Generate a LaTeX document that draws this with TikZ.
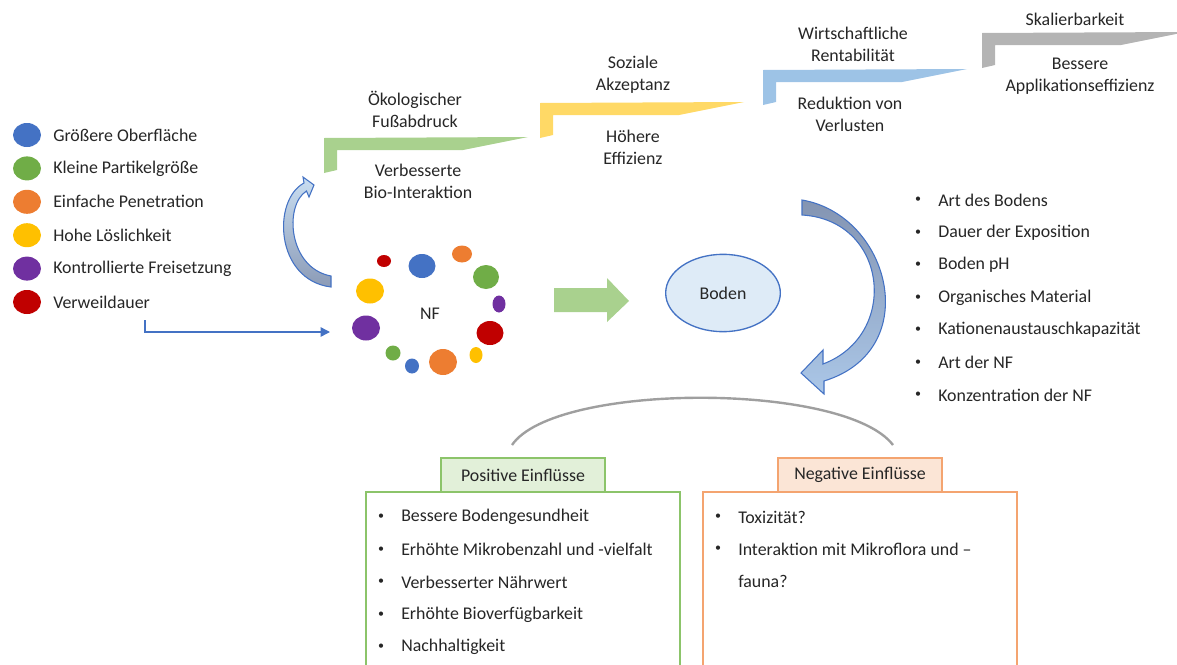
\documentclass[tikz,border=0pt]{standalone}
\usepackage{fontspec}
\setmainfont{Carlito}
\usetikzlibrary{arrows.meta,shapes.geometric}
\definecolor{NFBlue}{HTML}{4472C4}
\definecolor{NFGreen}{HTML}{70AD47}
\definecolor{NFOrange}{HTML}{ED7D31}
\definecolor{NFYellow}{HTML}{FFC000}
\definecolor{NFPurple}{HTML}{7030A0}
\definecolor{NFRed}{HTML}{C00000}
\definecolor{BanGreen}{HTML}{A9D18E}
\definecolor{BanYellow}{HTML}{FFD966}
\definecolor{BanBlue}{HTML}{9DC3E6}
\definecolor{BanGray}{HTML}{B4B4B4}
\definecolor{SoilFill}{HTML}{DEEBF7}
\definecolor{PosFill}{HTML}{E2F0D9}
\definecolor{PosLine}{HTML}{8CC46A}
\definecolor{NegFill}{HTML}{FBE5D6}
\definecolor{NegLine}{HTML}{F4A470}
\definecolor{TextDark}{HTML}{262626}

\begin{document}
\begin{tikzpicture}[x=0.75pt,y=-0.75pt,
  every node/.style={font=\fontsize{13.4}{16.5}\selectfont,text=TextDark},
  lab/.style={align=center,inner sep=0pt},
  item/.style={anchor=west,inner sep=0pt},
  dotitem/.style={inner sep=0pt,font=\fontsize{9}{9}\selectfont},
  conn/.style={-{Triangle[length=7pt,width=7pt]},NFBlue,line width=1.1pt},
  headbox/.style={draw,line width=1.4pt,minimum width=123pt,minimum height=25.5pt,inner sep=0pt},
  listbox/.style={line width=1.4pt}]
\clip (0,0) rectangle (1177,664);
% legend
\foreach \c/\t [count=\i] in {NFBlue/Größere Oberfläche,NFGreen/Kleine Partikelgröße,
    NFOrange/Einfache Penetration,NFYellow/Hohe Löslichkeit,
    NFPurple/Kontrollierte Freisetzung,NFRed/Verweildauer}{
  \fill[\c] (27,{135+33.4*(\i-1)}) ellipse [x radius=14,y radius=12];
  \node[item] (leg\i) at (53,{135+33.4*(\i-1)}) {\t};
}
% nanofertiliser cluster
\foreach \x/\y/\rx/\ry/\c in {384/261/7/6/NFRed,422/266/13.5/12/NFBlue,462/254/10/8.5/NFOrange,
    486/277/13/12/NFGreen,499/304/6.5/8.5/NFPurple,490/333/13.5/12/NFRed,
    476/355/6.5/8/NFYellow,443/362/14/13/NFOrange,412/366/7/7.5/NFBlue,
    393/353/7.5/7.5/NFGreen,366/328/14/12.5/NFPurple,370/291/14/12.5/NFYellow}{
  \fill[\c] (\x,\y) ellipse [x radius=\rx,y radius=\ry];
}
\node (nf) at (430,314) {NF};
\coordinate (legOut) at (145,320);
\coordinate (nfIn) at (330,332);
\draw[conn] (legOut) |- (nfIn);
% curved arrow up to the banners
\draw[NFBlue,line width=0.8pt,top color=BanBlue!55,bottom color=NFBlue!45!gray!75]
  (331,287) .. controls (275,280) and (272,200) .. (304,183) -- (303,177) -- (314,185)
  -- (309,197) -- (306.5,191) .. controls (284,205) and (288,268) .. (331,276) -- cycle;
% stepped banners
\foreach \bx/\by/\bc in {324/138/BanGreen,540/103/BanYellow,763/70/BanBlue,982/33/BanGray}{
  \fill[\bc] (\bx,\by) -- ++(204,-1) -- ++(-65,13) -- ++(-126,0) -- ++(0,20) -- ++(-13,3) -- cycle;
}
\node[lab] (ecoUp) at (415,109) {Ökologischer\\Fußabdruck};
\node[lab] (ecoDown) at (418,181) {Verbesserte\\Bio-Interaktion};
\node[lab] (socUp) at (633,75) {Soziale\\Akzeptanz};
\node[lab] (socDown) at (633,147) {Höhere\\Effizienz};
\node[lab] (ecnUp) at (853,44) {Wirtschaftliche\\Rentabilität};
\node[lab] (ecnDown) at (850,114) {Reduktion von\\Verlusten};
\node[lab] (scaUp) at (1075,19) {Skalierbarkeit};
\node[lab] (scaDown) at (1080,76) {Bessere\\Applikationseffizienz};
% flow into the soil
\fill[BanGreen] (554,288) -- (607,288) -- (607,278) -- (629,301) -- (607,322) -- (607,312) -- (554,312) -- cycle;
\node[ellipse,draw=NFBlue,line width=1pt,fill=SoilFill,minimum width=86pt,minimum height=58pt]
  (soil) at (723,293) {Boden};
% curved arrow down to the effects
\draw[NFBlue,line width=0.8pt,top color=NFBlue!45!gray!80,bottom color=BanBlue!75!NFBlue!70]
  (802,200) .. controls (890,215) and (925,350) .. (824,381) -- (824,394) -- (801,373)
  -- (823,350) -- (823,364) .. controls (900,335) and (888,220) .. (802,215) -- cycle;
% soil factors
\foreach \t [count=\i] in {Art des Bodens,Dauer der Exposition,Boden pH,Organisches Material,
    Kationenaustauschkapazität,Art der NF,Konzentration der NF}{
  \node[dotitem] at (918,{200+32.5*(\i-1)}) {•};
  \node[item] (fac\i) at (938,{200+32.5*(\i-1)}) {\t};
}
% arc over the two boxes
\coordinate (arcL) at (512,445);
\coordinate (arcR) at (893,445);
\draw[gray!75,line width=1.8pt] (arcL) .. controls (555,382) and (845,382) .. (arcR);
% positive effects
\draw[listbox,PosLine] (366,492) rectangle (680,672);
\node[headbox,draw=PosLine,fill=PosFill] (posHead) at (523,475) {Positive Einflüsse};
\foreach \t [count=\i] in {Bessere Bodengesundheit,Erhöhte Mikrobenzahl und -vielfalt,
    Verbesserter Nährwert,Erhöhte Bioverfügbarkeit,Nachhaltigkeit}{
  \node[dotitem] at (381,{517+32.5*(\i-1)}) {•};
  \node[item] (pos\i) at (401,{517+32.5*(\i-1)}) {\t};
}
% negative effects
\draw[listbox,NegLine] (703,492) rectangle (1017,672);
\node[headbox,draw=NegLine,fill=NegFill] (negHead) at (860,475) {Negative Einflüsse};
\node[dotitem] at (718,517) {•};
\node[item] (neg1) at (738,517) {Toxizität?};
\node[dotitem] at (718,549) {•};
\node[item] (neg2) at (738,549) {Interaktion mit Mikroflora und –};
\node[item] (neg3) at (738,581) {fauna?};
\end{tikzpicture}
\end{document}
